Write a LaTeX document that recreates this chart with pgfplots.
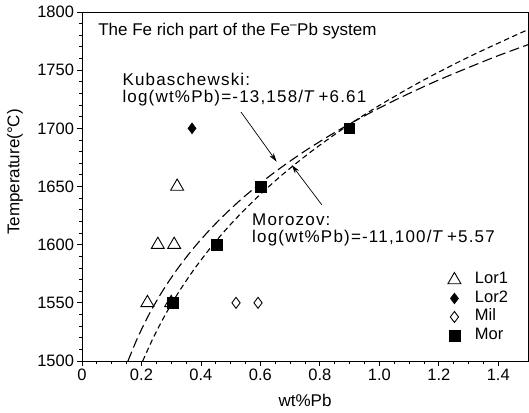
\documentclass[border=0pt]{standalone}
\usepackage{fontspec}
\setmainfont{Liberation Sans}
\newfontfamily\spaced[LetterSpace=7]{Liberation Sans}
\usepackage{pgfplots}
\pgfplotsset{compat=1.18}
\usetikzlibrary{arrows.meta}
\newcommand\f{\fontsize{16.5pt}{19pt}\selectfont}
\newcommand\g{\fontsize{17pt}{20pt}\selectfont}
\begin{document}
\begin{tikzpicture}
\begin{axis}[
  scale only axis, width=446pt, height=349pt,
  xmin=0, xmax=1.5, ymin=1500, ymax=1800,
  xtick={0,0.2,0.4,0.6,0.8,1.0,1.2,1.4},
  xticklabels={0,0.2,0.4,0.6,0.8,1.0,1.2,1.4},
  minor x tick num=3,
  ytick={1500,1550,1600,1650,1700,1750,1800},
  minor y tick num=4,
  tick align=outside, tick pos=left,
  major tick length=4.5pt, minor tick length=2.5pt,
  every tick/.style={black, line width=0.8pt},
  axis line style={black, line width=0.9pt},
  /pgf/number format/assume math mode=true,
  /pgf/number format/1000 sep={},
  tick label style={font=\f},
  every axis y label/.style={at={(rel axis cs:-0.1502,0.5415)}, anchor=center, rotate=90},
  every axis x label/.style={at={(rel axis cs:0.5,-0.1117)}, anchor=center},
  ylabel={\g Temperature(°C)},
  xlabel={\g wt\%Pb},
  clip mode=individual,
  legend style={draw=none, fill=none, inner sep=0pt, font=\f,
    at={(rel axis cs:0.82,0.2557)}, anchor=north west,
    nodes={inner sep=0pt, text height=12pt, text depth=4pt},
    row sep=2.5pt},
  legend cell align=left,
  /tikz/every odd column/.append style={column sep=14pt},
]
\coordinate (O) at (rel axis cs:0,0);
% Kubaschewski
\addplot[black, line width=1.1pt, dash pattern=on 10pt off 4.5pt, smooth, forget plot] coordinates {
(0.1546,1500)(0.1871,1520)(0.2254,1540)(0.2705,1560)(0.3233,1580)(0.3850,1600)(0.4567,1620)(0.5399,1640)(0.6361,1660)(0.7468,1680)(0.8739,1700)(1.0195,1720)(1.1857,1740)(1.3749,1760)(1.5,1771.9)};
% Morozov
\addplot[black, line width=1.1pt, dash pattern=on 5.5pt off 3.5pt, smooth, forget plot] coordinates {
(0.2042,1500)(0.2398,1520)(0.2806,1540)(0.3272,1560)(0.3804,1580)(0.4407,1600)(0.5090,1620)(0.5862,1640)(0.6731,1660)(0.7707,1680)(0.8800,1700)(1.0021,1720)(1.1383,1740)(1.2897,1760)(1.4577,1780)(1.5,1784.7)};
\addplot[only marks, mark=triangle, mark size=7.5pt, black, line width=0.9pt, mark options={fill=none}] coordinates {
(0.22,1550)(0.30,1550)(0.255,1600)(0.31,1600)(0.32,1650)};
\addlegendentry{Lor1}
\addplot[only marks, mark=diamond*, mark size=5.5pt, black] coordinates {(0.37,1700)};
\addlegendentry{Lor2}
\addplot[only marks, mark=diamond, mark size=5.5pt, black, line width=0.9pt, mark options={fill=white}] coordinates {(0.518,1550)(0.592,1550)};
\addlegendentry{Mil}
\addplot[only marks, mark=square*, mark size=5.3pt, black] coordinates {(0.305,1550)(0.453,1600)(0.601,1650)(0.899,1700)};
\addlegendentry{Mor}
% annotations
\node[anchor=base west, font=\g, inner sep=0pt] at (axis cs:0.054,1780.2) {The Fe rich part of the Fe\textsuperscript{--}Pb system};
\node[anchor=base west, font=\g\spaced, inner sep=0pt] at (axis cs:0.1356,1737.2) {Kubaschewski:};
\node[anchor=base west, font=\g\spaced, inner sep=0pt] at (axis cs:0.1356,1722.5) {log(wt\%Pb)=-13,158/\textit{T}\,+6.61};
\node[anchor=base west, font=\g\spaced, inner sep=0pt] at (axis cs:0.5718,1616.9) {Morozov:};
\node[anchor=base west, font=\g\spaced, inner sep=0pt] at (axis cs:0.5718,1601.5) {log(wt\%Pb)=-11,100/\textit{T}\,+5.57};
\draw[black, line width=0.7pt, -{Stealth[length=9pt,width=5pt]}] (axis cs:0.5348,1714) -- (axis cs:0.6548,1671.3);
\draw[black, line width=0.7pt, -{Stealth[length=9pt,width=5pt]}] (axis cs:0.807,1634.1) -- (axis cs:0.7053,1668.5);
\end{axis}
\pgfresetboundingbox
\path[use as bounding box] ([shift={(-82pt,-51pt)}]O) rectangle ++(529pt,412pt);
\end{tikzpicture}
\end{document}
